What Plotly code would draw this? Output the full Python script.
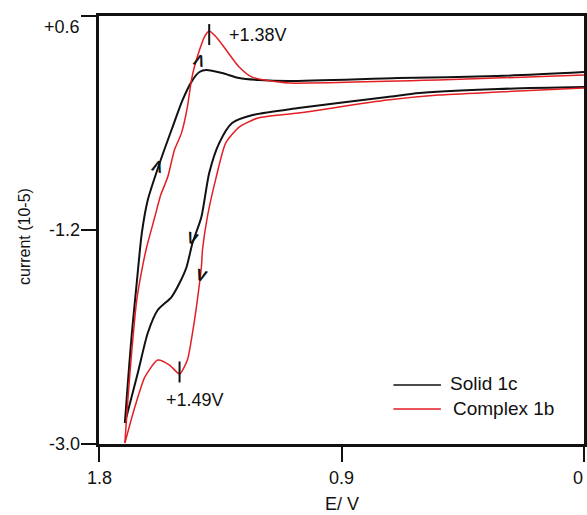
import plotly.graph_objects as go

# ---- data (E in V, current in 10^-5 A) ----
# Solid 1c
black_rev_E = [0.00, 0.32, 0.61, 0.73, 1.06, 1.23, 1.306, 1.354, 1.391, 1.420, 1.453, 1.475, 1.501, 1.531, 1.582, 1.619, 1.656, 1.704]
black_rev_I = [0.002, -0.014, -0.048, -0.082, -0.174, -0.233, -0.300, -0.469, -0.721, -1.091, -1.310, -1.511, -1.646, -1.764, -1.873, -2.066, -2.403, -2.823]
black_fwd_E = [1.704, 1.693, 1.678, 1.660, 1.641, 1.619, 1.575, 1.527, 1.490, 1.453, 1.427, 1.402, 1.343, 1.280, 1.206, 1.095, 0.690, 0.321, 0.00]
black_fwd_I = [-2.823, -2.487, -2.066, -1.646, -1.225, -0.948, -0.637, -0.334, -0.107, 0.061, 0.129, 0.145, 0.120, 0.078, 0.061, 0.053, 0.078, 0.095, 0.129]

# Complex 1b
red_rev_E = [0.00, 0.32, 0.54, 0.73, 1.06, 1.21, 1.28, 1.33, 1.365, 1.398, 1.416, 1.420, 1.435, 1.453, 1.472, 1.501, 1.538, 1.582, 1.630, 1.667, 1.704]
red_rev_I = [-0.006, -0.040, -0.065, -0.107, -0.216, -0.258, -0.334, -0.469, -0.755, -1.091, -1.368, -1.511, -1.789, -2.066, -2.294, -2.411, -2.336, -2.294, -2.437, -2.689, -2.992]
red_fwd_E = [1.704, 1.693, 1.678, 1.660, 1.641, 1.623, 1.593, 1.571, 1.545, 1.520, 1.494, 1.472, 1.457, 1.446, 1.427, 1.409, 1.391, 1.365, 1.328, 1.280, 1.232, 1.132, 1.095, 0.542, 0.00]
red_fwd_I = [-2.992, -2.630, -2.209, -1.789, -1.537, -1.343, -1.091, -0.906, -0.755, -0.527, -0.385, -0.166, 0.061, 0.171, 0.314, 0.423, 0.473, 0.423, 0.314, 0.171, 0.086, 0.044, 0.036, 0.061, 0.103]

# peak markers and labels
peak_E = [1.391, 1.501]
peak_I = [0.444, -2.394]
peak_labels = ["+1.38V", "+1.49V"]
peak_label_E = [1.324, 1.557]
peak_label_I = [0.440, -2.630]

# scan direction chevrons
arrow_E = [1.582, 1.427, 1.453, 1.420]
arrow_I = [-0.670, 0.229, -1.268, -1.579]
arrow_txt = ["Λ", "Λ", "V", "V"]

xtick_vals = [1.8, 0.9, 0.0]
xtick_text = ["1.8", "0.9", "0"]
ytick_vals = [-3.0, -1.2, 0.6]
ytick_text = ["-3.0", "-1.2", "+0.6"]

series_names = ["Solid 1c", "Complex 1b"]
BLACK = "#111111"
RED = "#e31e24"
FONT = "Liberation Sans, Arial, sans-serif"

fig = go.Figure()
for E, I in [(black_rev_E, black_rev_I), (black_fwd_E, black_fwd_I)]:
    fig.add_trace(go.Scatter(x=E, y=I, mode="lines", line=dict(color=BLACK, width=2, shape="spline", smoothing=0.7),
                             showlegend=False, hoverinfo="skip"))
for E, I in [(red_rev_E, red_rev_I), (red_fwd_E, red_fwd_I)]:
    fig.add_trace(go.Scatter(x=E, y=I, mode="lines", line=dict(color=RED, width=1.5, shape="spline", smoothing=0.6),
                             showlegend=False, hoverinfo="skip"))

fig.add_trace(go.Scatter(x=peak_E, y=peak_I, mode="markers",
                         marker=dict(symbol="line-ns", size=15, line=dict(color=BLACK, width=2)),
                         showlegend=False, hoverinfo="skip"))

annotations = []
for e, i, t in zip(peak_label_E, peak_label_I, peak_labels):
    annotations.append(dict(x=e, y=i, xref="x", yref="y", text=t, showarrow=False, xanchor="left",
                            yanchor="middle", font=dict(family=FONT, size=18, color=BLACK)))
for e, i, t in zip(arrow_E, arrow_I, arrow_txt):
    annotations.append(dict(x=e, y=i, xref="x", yref="y", text="<b>" + t + "</b>", showarrow=False, textangle=18,
                            font=dict(family=FONT, size=16, color=BLACK)))
for v, t in zip(ytick_vals, ytick_text):
    annotations.append(dict(x=0, y=v, xref="paper", yref="y", text=t, showarrow=False, xanchor="right",
                            yanchor="middle", xshift=-17, yshift=(-11 if v == 0.6 else 0),
                            font=dict(family=FONT, size=18, color=BLACK)))
for v, t in zip(xtick_vals, xtick_text):
    annotations.append(dict(x=v, y=0, xref="x", yref="paper", text=t, showarrow=False, xanchor="center",
                            yanchor="middle", yshift=-34, xshift=(-6 if v == 0.0 else 0),
                            font=dict(family=FONT, size=18, color=BLACK)))
# axis titles
annotations.append(dict(x=0.5, y=0, xref="paper", yref="paper", text="E/ V", showarrow=False,
                        yanchor="middle", yshift=-60, font=dict(family=FONT, size=18, color=BLACK)))
annotations.append(dict(x=0, y=1 - (237 - 16) / 428, xref="paper", yref="paper", text="current (10-5)",
                        showarrow=False, textangle=-90, xanchor="center", yanchor="middle", xshift=-75,
                        font=dict(family=FONT, size=16, color=BLACK)))

# manual legend
leg_y = [0.138, 0.082]
leg_cols = [BLACK, RED]
leg_text_x = [0.719, 0.725]
leg_text_y = [0.1425, 0.084]
shapes = []
for yy, c, n, tx, ty in zip(leg_y, leg_cols, series_names, leg_text_x, leg_text_y):
    shapes.append(dict(type="line", xref="paper", yref="paper", x0=0.607, x1=0.705, y0=yy, y1=yy,
                       line=dict(color=c, width=1.5)))
    annotations.append(dict(x=tx, y=ty, xref="paper", yref="paper", text=n, showarrow=False,
                            xanchor="left", yanchor="middle", font=dict(family=FONT, size=19, color=BLACK)))

fig.update_layout(
    width=587, height=515,
    margin=dict(l=99, r=0, t=16, b=71),
    paper_bgcolor="white", plot_bgcolor="white",
    showlegend=False,
    annotations=annotations,
    shapes=shapes,
    font=dict(family=FONT, size=18, color=BLACK),
)
fig.update_xaxes(range=[1.8, 0.0], tickvals=xtick_vals, showticklabels=False, ticks="outside", ticklen=15,
                 tickwidth=2, tickcolor=BLACK, showline=True, linecolor=BLACK, linewidth=2.5, mirror=True,
                 showgrid=False, zeroline=False)
fig.update_yaxes(range=[-3.0, 0.6], tickvals=ytick_vals, showticklabels=False, ticks="outside", ticklen=15,
                 tickwidth=2, tickcolor=BLACK, showline=True, linecolor=BLACK, linewidth=2.5, mirror=True,
                 showgrid=False, zeroline=False)

fig.write_html("out.html")
